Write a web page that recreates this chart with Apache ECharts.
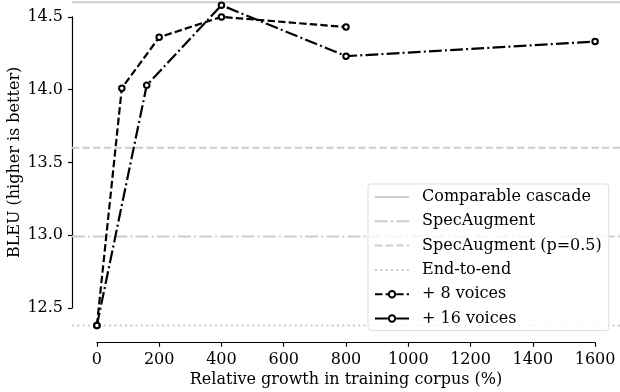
<!DOCTYPE html>
<html><head><meta charset="utf-8">
<script src="https://cdn.jsdelivr.net/npm/echarts@6/dist/echarts.min.js"></script>
<style>html,body{margin:0;padding:0;background:#fff}#c{width:620px;height:392px}</style>
</head><body><div id="c"></div>
<script>
// Data
const voices8X = [0, 80, 200, 400, 800];
const voices8Y = [12.38, 14.01, 14.36, 14.50, 14.43];
const voices16X = [0, 160, 400, 800, 1600];
const voices16Y = [12.38, 14.03, 14.58, 14.23, 14.33];
const refNames = ['Comparable cascade', 'SpecAugment', 'SpecAugment (p=0.5)', 'End-to-end'];
const refValues = [14.60, 12.99, 13.60, 12.38];
const xTicks = [0, 200, 400, 600, 800, 1000, 1200, 1400, 1600];
const yTicks = [12.5, 13.0, 13.5, 14.0, 14.5];

const X_MIN = -80, X_MAX = 1680, Y_MIN = 12.261, Y_MAX = 14.616;
const FONT = 'DejaVu Serif';
const FS = 16;
const GRAY = '#cccccc';
const refTypes = ['solid', [12.8, 3.2, 2, 3.2], [7.4, 3.2], [2, 3.3]];

const chart = echarts.init(document.getElementById('c'), null, {renderer: 'canvas'});

const series = [];
refNames.forEach((n, i) => {
  series.push({
    name: n, type: 'line', xAxisIndex: 0, yAxisIndex: 0,
    data: [[X_MIN, refValues[i]], [X_MAX, refValues[i]]],
    symbol: 'none', silent: true, z: 1,
    lineStyle: {color: GRAY, width: 2, type: refTypes[i]},
    itemStyle: {color: GRAY}
  });
});
series.push({
  name: '+ 8 voices', type: 'line', xAxisIndex: 0, yAxisIndex: 0,
  data: voices8X.map((x, i) => [x, voices8Y[i]]),
  symbol: 'emptyCircle', symbolSize: 5.5, z: 5,
  lineStyle: {color: '#000', width: 2.2, type: [7.4, 3.2]},
  itemStyle: {color: '#000', borderWidth: 2.2}
});
series.push({
  name: '+ 16 voices', type: 'line', xAxisIndex: 0, yAxisIndex: 0,
  data: voices16X.map((x, i) => [x, voices16Y[i]]),
  symbol: 'emptyCircle', symbolSize: 5.5, z: 5,
  lineStyle: {color: '#000', width: 2.2, type: [12.8, 3.2, 2, 3.2]},
  itemStyle: {color: '#000', borderWidth: 2.2}
});

const axisText = {fontFamily: FONT, fontSize: FS, color: '#000'};

const legendData = refNames.map((n, i) => ({
  name: n, itemStyle: {opacity: 0}, lineStyle: {color: GRAY, width: 2, type: refTypes[i]}
})).concat([{name: '+ 8 voices'}, {name: '+ 16 voices'}]);

chart.setOption({
  animation: false,
  backgroundColor: '#fff',
  textStyle: {fontFamily: FONT},
  grid: [
    {left: 72, right: 0, top: 0, bottom: 49.3},
    {left: 72, width: 1, top: 16.9, height: 291},
    {left: 96.9, width: 498.2, top: 341.7, height: 1}
  ],
  xAxis: [
    {gridIndex: 0, type: 'value', min: X_MIN, max: X_MAX, show: false},
    {gridIndex: 1, type: 'value', min: 0, max: 1, show: false},
    {gridIndex: 2, type: 'value', min: xTicks[0], max: xTicks[xTicks.length - 1], interval: 200,
      name: 'Relative growth in training corpus (%)', nameLocation: 'middle', nameGap: 29,
      nameTextStyle: axisText,
      axisLine: {show: true, lineStyle: {color: '#000', width: 1.2}},
      axisTick: {show: true, length: 4, lineStyle: {color: '#000', width: 1.2}},
      axisLabel: Object.assign({margin: 9, formatter: v => String(v)}, axisText),
      splitLine: {show: false}}
  ],
  yAxis: [
    {gridIndex: 0, type: 'value', min: Y_MIN, max: Y_MAX, show: false},
    {gridIndex: 1, type: 'value', min: yTicks[0], max: yTicks[yTicks.length - 1], interval: 0.5,
      name: 'BLEU (higher is better)', nameLocation: 'middle', nameGap: 49, nameRotate: 90,
      nameTextStyle: axisText,
      axisLine: {show: true, lineStyle: {color: '#000', width: 1.2}},
      axisTick: {show: true, length: 4, lineStyle: {color: '#000', width: 1.2}},
      axisLabel: Object.assign({margin: 9, formatter: v => v.toFixed(1)}, axisText),
      splitLine: {show: false}},
    {gridIndex: 2, type: 'value', min: 0, max: 1, show: false}
  ],
  legend: {
    orient: 'vertical', left: 368, top: 184,
    itemWidth: 34, itemHeight: 8, itemGap: 8.3,
    padding: [5, 7, 4, 6],
    backgroundColor: 'rgba(255,255,255,0.8)',
    borderColor: '#dddddd', borderWidth: 1, borderRadius: 3,
    textStyle: {fontFamily: FONT, fontSize: FS, color: '#000', padding: [0, 0, 0, 8]},
    data: legendData
  },
  series: series
});
</script></body></html>
